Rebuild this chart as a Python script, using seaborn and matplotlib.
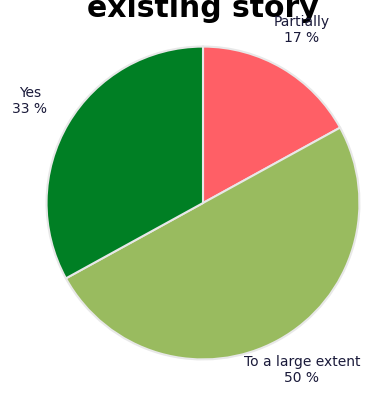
import matplotlib
matplotlib.use("Agg")
import matplotlib.pyplot as plt
import seaborn as sns

# Answer categories and their shares (percent)
categories = ["Partially", "To a large extent", "Yes"]
shares = [17, 50, 33]
slice_colors = ["#FF5F66", "#99BB5F", "#007F24"]

sns.set_theme(style="white")
plt.rcParams["font.family"] = ["DejaVu Sans"]

W, H = 369, 394
fig = plt.figure(figsize=(W / 100, H / 100), dpi=100)
fig.patch.set_facecolor("white")

cx, cy, r = 203, 203, 158
ax = fig.add_axes([(cx - r) / W, (H - cy - r) / H, 2 * r / W, 2 * r / H])
ax.pie(shares, colors=slice_colors, startangle=90, counterclock=False,
       radius=1, wedgeprops=dict(edgecolor="#E8E8E8", linewidth=1.5))
ax.set_xlim(-1.01, 1.01)
ax.set_ylim(-1.01, 1.01)
ax.axis("off")

# Title (the last line of a longer heading)
fig.text(203 / W, 1 - 17 / H, "existing story", ha="center", va="baseline",
         fontsize=21.5, fontweight="bold", color="black")

label_pos = {"Partially": (302, 30), "To a large extent": (302, 370), "Yes": (30, 101)}
for name, val in zip(categories, shares):
    x, y = label_pos[name]
    fig.text(x / W, 1 - y / H, f"{name}\n{val} %", ha="center", va="center",
             fontsize=10, color="#1A1A3A", linespacing=1.15)

fig.savefig("out.png", dpi=100)
